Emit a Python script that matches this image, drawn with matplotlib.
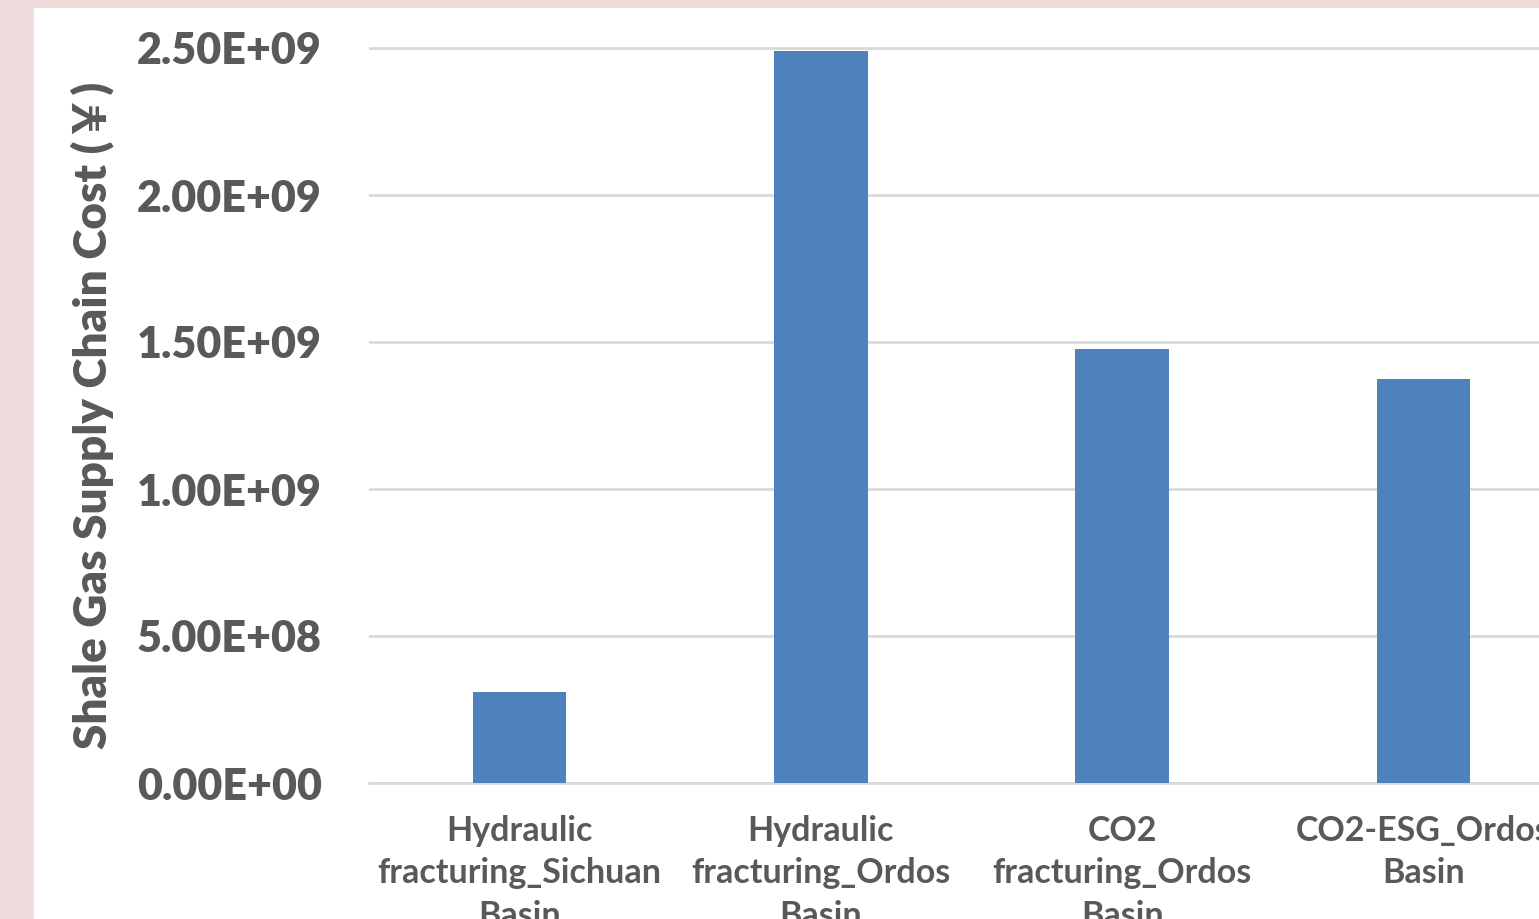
import numpy as np
import matplotlib.pyplot as plt
from matplotlib.patches import Rectangle

# Supply chain cost per fracturing scenario
scenarios = [
    'Hydraulic\nfracturing_Sichuan\nBasin',
    'Hydraulic\nfracturing_Ordos\nBasin',
    'CO2\nfracturing_Ordos\nBasin',
    'CO2-ESG_Ordos\nBasin',
]
costs = [3.10e8, 2.49e9, 1.476e9, 1.374e9]
yticks = [0, 5e8, 1e9, 1.5e9, 2e9, 2.5e9]

text_color = '#595959'
grid_color = '#d9d9d9'
bar_color = '#4f81bd'

W, H = 1539, 919
fig = plt.figure(figsize=(W / 100, H / 100), dpi=100, facecolor='#f2dbdc')
# white chart panel on the pink page
fig.patches.append(Rectangle((34 / W, 0), 1, 1 - 8 / H, transform=fig.transFigure,
                             facecolor='white', edgecolor='none', zorder=-5))

ymax = 2.55e9
px_per = 147 / 5e8          # pixels per unit on the value axis
top_px = 783 - ymax * px_per
ax = fig.add_axes([369 / W, 1 - 783 / H, (1574 - 369) / W, (783 - top_px) / H])
ax.set_facecolor('none')

x = np.arange(len(scenarios))
ax.bar(x, costs, width=0.31, color=bar_color, zorder=3)

ax.set_xlim(-0.5, len(scenarios) - 0.5)
ax.set_ylim(0, ymax)
ax.set_yticks(yticks)
ax.set_yticklabels([f'{v:.2E}' for v in yticks])
ax.set_xticks(x)
ax.set_xticklabels(scenarios, linespacing=1.40)

for lbl in ax.get_yticklabels():
    lbl.set_fontfamily('Lato')
    lbl.set_fontweight('heavy')
    lbl.set_fontsize(31)
    lbl.set_color(text_color)
for lbl in ax.get_xticklabels():
    lbl.set_fontfamily('Lato')
    lbl.set_fontweight('bold')
    lbl.set_fontsize(24.5)
    lbl.set_color(text_color)

ax.tick_params(axis='both', length=0)
ax.tick_params(axis='y', pad=34)
ax.tick_params(axis='x', pad=23)

ax.grid(axis='y', color=grid_color, linewidth=2, zorder=0)
for side in ['top', 'right', 'left']:
    ax.spines[side].set_visible(False)
ax.spines['bottom'].set_color(grid_color)
ax.spines['bottom'].set_linewidth(2)

ax.set_ylabel('Shale Gas Supply Chain Cost (￥)', family=['Lato', 'Noto Sans CJK SC'],
              fontweight='heavy', fontsize=33, color=text_color)
ax.yaxis.set_label_coords((114 - 369) / (1574 - 369), (783 - 415) / (783 - top_px))

fig.savefig('out.png', dpi=100, facecolor=fig.get_facecolor())
